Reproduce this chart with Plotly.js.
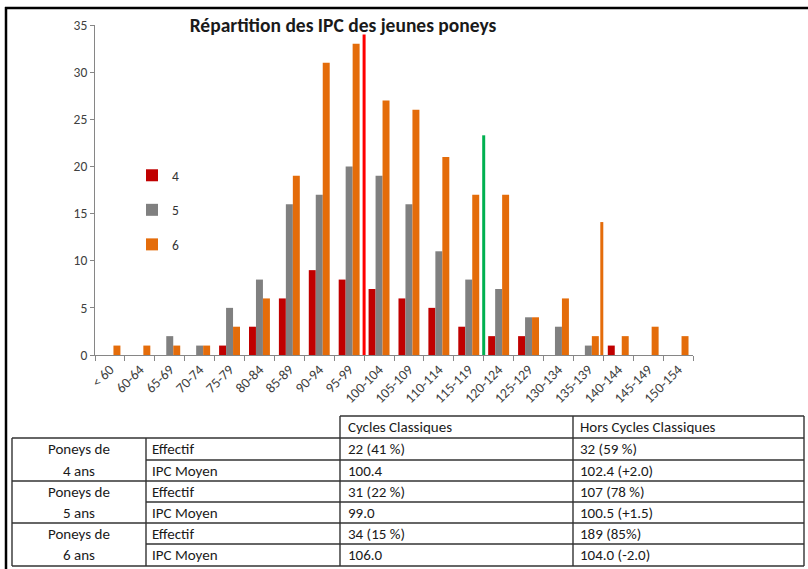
<!DOCTYPE html>
<html>
<head>
<meta charset="utf-8">
<script src="https://cdn.plot.ly/plotly-3.0.1.min.js"></script>
<style>
html,body{margin:0;padding:0;background:#fff;}
#chart{width:808px;height:569px;}
</style>
</head>
<body>
<div id="chart"></div>
<script>
// ---- Data ----
const categories = ['< 60','60-64','65-69','70-74','75-79','80-84','85-89','90-94','95-99','100-104','105-109','110-114','115-119','120-124','125-129','130-134','135-139','140-144','145-149','150-154'];
const seriesNames = ['4','5','6'];
const series4 = [0,0,0,0,1,3,6,9,8,7,6,5,3,2,2,0,0,1,0,0];
const series5 = [0,0,2,1,5,8,16,17,20,19,16,11,8,7,4,3,1,0,0,0];
const series6 = [1,1,1,1,3,6,19,31,33,27,26,21,17,17,4,6,2,2,3,2];
const yTicks = [0,5,10,15,20,25,30,35];
// vertical reference lines (category-index position, height)
const refLinePos = [8.5, 12.5, 16.45];
const refLineHeight = [34, 23.3, 14.1];
const refLineColors = ['#FF0000','#00B050','#E46C0A'];

const chartTitle = 'Répartition des IPC des jeunes poneys';
const tableHeader = ['Cycles Classiques','Hors Cycles Classiques'];
const groupLabels = [['Poneys de','4 ans'],['Poneys de','5 ans'],['Poneys de','6 ans']];
const rowLabels = ['Effectif','IPC Moyen'];
const cyclesValues = ['22 (41 %)','100.4','31 (22 %)','99.0','34 (15 %)','106.0'];
const horsValues = ['32 (59 %)','102.4 (+2.0)','107 (78 %)','100.5 (+1.5)','189 (85%)','104.0 (-2.0)'];

// ---- Styles ----
const FONT = 'Carlito, Lato, "Open Sans", sans-serif';
const colors = ['#C00000','#808080','#E46C0A'];
const allSeries = [series4, series5, series6];

// plot area geometry (pixels)
const L = 95, R = 693, T = 25, B = 355;
const px = x => (x - L) / (R - L);
const py = y => (B - y) / (B - T);

const traces = allSeries.map((vals, i) => ({
  type: 'bar',
  x: categories,
  y: vals,
  name: seriesNames[i],
  legendgroup: seriesNames[i],
  marker: {color: colors[i]},
  hoverinfo: 'x+y+name'
}));

const shapes = [];
refLinePos.forEach((xv, i) => {
  shapes.push({type:'line', xref:'x', yref:'y', x0:xv, x1:xv, y0:0, y1:refLineHeight[i],
    line:{color:refLineColors[i], width:3}});
});

// outer frame
shapes.push({type:'line', xref:'paper', yref:'paper', x0:px(5), x1:px(808), y0:py(8), y1:py(8), line:{color:'#000', width:2.5}});
shapes.push({type:'line', xref:'paper', yref:'paper', x0:px(6), x1:px(6), y0:py(7), y1:py(569), line:{color:'#000', width:2.5}});

// table grid
const tl = {color:'#333', width:1.4};
const cx = [12, 146, 340, 573, 804];
const rowY = [438, 460, 481, 502, 523, 544, 566];
const hTop = 416;
function hline(x0, x1, y){ shapes.push({type:'line', xref:'paper', yref:'paper', x0:px(x0), x1:px(x1), y0:py(y), y1:py(y), line:tl}); }
function vline(x, y0, y1){ shapes.push({type:'line', xref:'paper', yref:'paper', x0:px(x), x1:px(x), y0:py(y0), y1:py(y1), line:tl}); }
hline(cx[2], cx[4], hTop);
rowY.forEach((y, i) => { if (i % 2 === 0) hline(cx[0], cx[4], y); else hline(cx[1], cx[4], y); });
vline(cx[0], rowY[0], rowY[6]);
vline(cx[1], rowY[0], rowY[6]);
vline(cx[2], hTop, rowY[6]);
vline(cx[3], hTop, rowY[6]);
vline(cx[4], hTop, rowY[6]);

// table text
const annotations = [];
const tf = {family: FONT, size: 15, color: '#1a1a1a'};
function txt(text, x, y, anchor){ annotations.push({xref:'paper', yref:'paper', x:px(x), y:py(y), text:text, showarrow:false, xanchor:anchor, yanchor:'middle', font:tf}); }
txt(tableHeader[0], cx[2] + 6, (hTop + rowY[0]) / 2, 'left');
txt(tableHeader[1], cx[3] + 5, (hTop + rowY[0]) / 2, 'left');
for (let r = 0; r < 6; r++) {
  const yc = (rowY[r] + rowY[r + 1]) / 2;
  const g = Math.floor(r / 2);
  txt(groupLabels[g][r % 2], (cx[0] + cx[1]) / 2, yc, 'center');
  txt(rowLabels[r % 2], cx[1] + 4, yc, 'left');
  txt(cyclesValues[r], cx[2] + 6, yc, 'left');
  txt(horsValues[r], cx[3] + 5, yc, 'left');
}

const layout = {
  width: 808, height: 569,
  margin: {l: L, r: 808 - R, t: T, b: 569 - B},
  paper_bgcolor: '#fff', plot_bgcolor: '#fff',
  font: {family: FONT, color: '#404040'},
  title: {text: chartTitle, font: {family: FONT, size: 19.5, color: '#1a1a1a', weight: 'bold'},
    xref: 'paper', x: px(343), xanchor: 'center', yref: 'container', y: 1 - 25/569, yanchor: 'middle'},
  barmode: 'group', bargap: 0.3, bargroupgap: 0,
  showlegend: true,
  legend: {x: px(132), y: py(160), xanchor: 'left', yanchor: 'top', bgcolor: 'rgba(0,0,0,0)',
    font: {family: FONT, size: 13.5, color: '#333'}, tracegroupgap: 14, itemclick: false},
  xaxis: {type: 'category', tickson: 'boundaries', ticks: 'outside', ticklen: 5, tickcolor: '#868686',
    showline: true, linecolor: '#868686', linewidth: 1, showgrid: false, zeroline: false,
    tickangle: -45, tickfont: {family: FONT, size: 14, color: '#404040'},
    range: [-0.5, categories.length - 0.5], fixedrange: true},
  yaxis: {range: [0, 35], tickvals: yTicks, ticks: 'outside', ticklen: 4, tickcolor: '#868686',
    showline: true, linecolor: '#868686', linewidth: 1, showgrid: false, zeroline: false,
    tickfont: {family: FONT, size: 13.5, color: '#404040'}, fixedrange: true},
  shapes: shapes,
  annotations: annotations
};

Plotly.newPlot('chart', traces, layout, {displayModeBar: false, staticPlot: false});
</script>
</body>
</html>
